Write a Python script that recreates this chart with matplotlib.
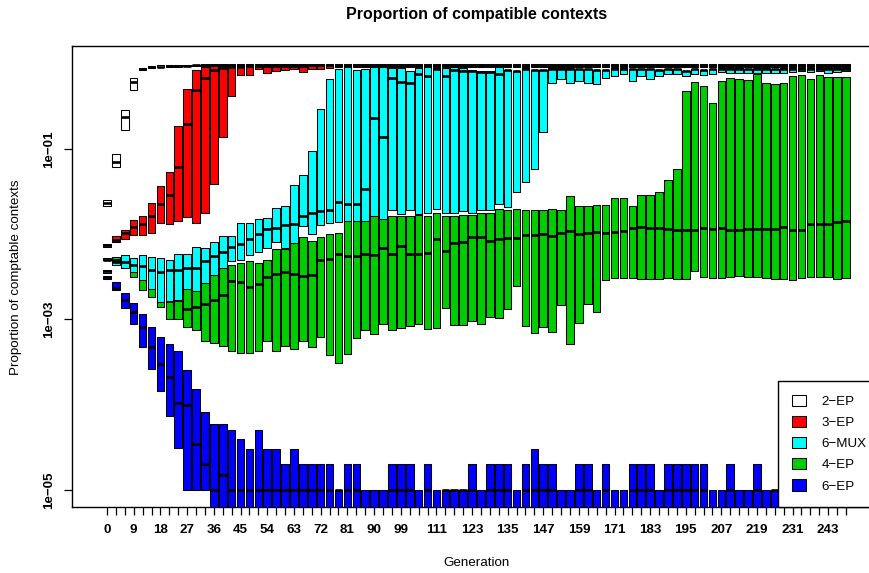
import numpy as np
import matplotlib
matplotlib.use("Agg")
import matplotlib.pyplot as plt
from matplotlib.patches import Patch
from matplotlib.ticker import NullLocator

plt.rcParams['font.family'] = ['Liberation Sans', 'DejaVu Sans']

# ---------------- data ----------------
generations = [0, 3, 6, 9, 12, 15, 18, 21, 24, 27, 30, 33, 36, 39, 42, 45, 48, 51, 54, 57,
               60, 63, 66, 69, 72, 75, 78, 81, 84, 87, 90, 93, 96, 99, 102, 105, 108, 111, 114, 117,
               120, 123, 126, 129, 132, 135, 138, 141, 144, 147, 150, 153, 156, 159, 162, 165, 168, 171, 174, 177,
               180, 183, 186, 189, 192, 195, 198, 201, 204, 207, 210, 213, 216, 219, 222, 225, 228, 231, 234, 237,
               240, 243, 246, 249]
labeled_generations = [0, 9, 18, 27, 36, 45, 54, 63, 72, 81, 90, 99, 111, 123, 135, 147, 159, 171,
                       183, 195, 207, 219, 231, 243]

# 2-EP
ep2_q1 = [0.0215, 0.0611, 0.167, 0.486, 0.83, 0.88, 0.90, 0.91, 0.92, 0.925, 0.93, 0.93, 0.93, 0.93, 0.93, 0.93, 0.93, 0.93, 0.93, 0.93,
          0.93, 0.93, 0.93, 0.93, 0.93, 0.93, 0.93, 0.93, 0.93, 0.93, 0.93, 0.93, 0.93, 0.93, 0.93, 0.93, 0.93, 0.93, 0.93, 0.93,
          0.93, 0.93, 0.93, 0.93, 0.93, 0.93, 0.93, 0.93, 0.93, 0.93, 0.93, 0.93, 0.93, 0.93, 0.93, 0.93, 0.93, 0.93, 0.93, 0.93,
          0.93, 0.93, 0.93, 0.93, 0.93, 0.93, 0.93, 0.93, 0.93, 0.93, 0.93, 0.93, 0.93, 0.93, 0.93, 0.93, 0.93, 0.93, 0.93, 0.93,
          0.93, 0.93, 0.93, 0.93]
ep2_med = [0.0233, 0.0705, 0.238, 0.603, 0.87, 0.91, 0.92, 0.93, 0.94, 0.945, 0.95, 0.95, 0.95, 0.95, 0.95, 0.95, 0.95, 0.95, 0.95, 0.95,
           0.955, 0.955, 0.955, 0.955, 0.955, 0.955, 0.955, 0.955, 0.955, 0.955, 0.955, 0.955, 0.955, 0.955, 0.955, 0.955, 0.955, 0.955, 0.955, 0.955,
           0.955, 0.955, 0.955, 0.955, 0.955, 0.955, 0.955, 0.955, 0.955, 0.955, 0.955, 0.955, 0.955, 0.955, 0.955, 0.955, 0.955, 0.955, 0.955, 0.955,
           0.955, 0.955, 0.955, 0.955, 0.955, 0.955, 0.955, 0.955, 0.955, 0.955, 0.955, 0.955, 0.955, 0.955, 0.955, 0.955, 0.955, 0.955, 0.955, 0.955,
           0.955, 0.955, 0.955, 0.955]
ep2_q3 = [0.0253, 0.0867, 0.284, 0.682, 0.89, 0.94, 0.95, 0.955, 0.96, 0.965, 0.97, 0.975, 0.975, 0.975, 0.975, 0.975, 0.975, 0.975, 0.975, 0.975,
          0.975, 0.975, 0.975, 0.975, 0.975, 0.975, 0.975, 0.975, 0.975, 0.975, 0.975, 0.975, 0.975, 0.975, 0.975, 0.975, 0.975, 0.975, 0.975, 0.975,
          0.975, 0.975, 0.975, 0.975, 0.975, 0.975, 0.975, 0.975, 0.975, 0.975, 0.975, 0.975, 0.975, 0.975, 0.975, 0.975, 0.975, 0.975, 0.975, 0.975,
          0.975, 0.975, 0.975, 0.975, 0.975, 0.975, 0.975, 0.975, 0.975, 0.975, 0.975, 0.975, 0.975, 0.975, 0.975, 0.975, 0.975, 0.975, 0.975, 0.975,
          0.975, 0.975, 0.975, 0.975]

# 3-EP
ep3_q1 = [0.0071, 0.0080, 0.00879, 0.00968, 0.00987, 0.0102, 0.0134, 0.0131, 0.0141, 0.0157, 0.0135, 0.0175, 0.0386, 0.139, 0.417, 0.728, 0.728, 0.862, 0.774, 0.81,
          0.839, 0.855, 0.80, 0.86, 0.87, 0.88, 0.90, 0.90, 0.90, 0.90, 0.90, 0.90, 0.90, 0.90, 0.90, 0.90, 0.90, 0.90, 0.90, 0.90,
          0.90, 0.90, 0.90, 0.90, 0.90, 0.90, 0.90, 0.90, 0.90, 0.90, 0.90, 0.90, 0.90, 0.90, 0.90, 0.90, 0.90, 0.90, 0.90, 0.90,
          0.90, 0.90, 0.90, 0.90, 0.90, 0.90, 0.90, 0.90, 0.90, 0.90, 0.90, 0.90, 0.90, 0.90, 0.90, 0.90, 0.90, 0.90, 0.90, 0.90,
          0.90, 0.90, 0.90, 0.90]
ep3_med = [0.0074, 0.0086, 0.0102, 0.01214, 0.01327, 0.0161, 0.0227, 0.029, 0.0605, 0.196, 0.486, 0.671, 0.839, 0.879, 0.903, 0.917, 0.935, 0.943, 0.943, 0.945,
           0.945, 0.945, 0.945, 0.95, 0.95, 0.95, 0.95, 0.95, 0.95, 0.95, 0.95, 0.95, 0.95, 0.95, 0.95, 0.95, 0.95, 0.95, 0.95, 0.95,
           0.95, 0.95, 0.95, 0.95, 0.95, 0.95, 0.95, 0.95, 0.95, 0.95, 0.95, 0.95, 0.95, 0.95, 0.95, 0.95, 0.95, 0.95, 0.95, 0.95,
           0.95, 0.95, 0.95, 0.95, 0.95, 0.95, 0.95, 0.95, 0.95, 0.95, 0.95, 0.95, 0.95, 0.95, 0.95, 0.95, 0.95, 0.95, 0.95, 0.95,
           0.95, 0.95, 0.95, 0.95]
ep3_q3 = [0.0077, 0.0094, 0.0113, 0.01466, 0.01646, 0.0232, 0.0366, 0.0528, 0.184, 0.499, 0.839, 0.903, 0.943, 0.943, 0.943, 0.96, 0.96, 0.96, 0.96, 0.96,
          0.96, 0.96, 0.96, 0.97, 0.97, 0.97, 0.97, 0.97, 0.97, 0.97, 0.97, 0.97, 0.97, 0.97, 0.97, 0.97, 0.97, 0.97, 0.97, 0.97,
          0.97, 0.97, 0.97, 0.97, 0.97, 0.97, 0.97, 0.97, 0.97, 0.97, 0.97, 0.97, 0.97, 0.97, 0.97, 0.97, 0.97, 0.97, 0.97, 0.97,
          0.97, 0.97, 0.97, 0.97, 0.97, 0.97, 0.97, 0.97, 0.97, 0.97, 0.97, 0.97, 0.97, 0.97, 0.97, 0.97, 0.97, 0.97, 0.97, 0.97,
          0.97, 0.97, 0.97, 0.97]

# 6-MUX
mux6_q1 = [0.0035, 0.00428, 0.00402, 0.00357, 0.00288, 0.00224, 0.0016, 0.00162, 0.00168, 0.00228, 0.00216, 0.00268, 0.0033, 0.00402, 0.00481, 0.00503, 0.00565, 0.0062, 0.0069, 0.0081,
           0.0068, 0.0079, 0.0123, 0.0099, 0.0126, 0.0133, 0.0139, 0.0144, 0.0144, 0.0141, 0.0162, 0.0151, 0.0193, 0.0174, 0.0193, 0.0172, 0.0177, 0.0197, 0.0177, 0.0177,
           0.0185, 0.0177, 0.0193, 0.019, 0.0226, 0.0206, 0.0308, 0.0403, 0.0579, 0.159, 0.587, 0.659, 0.596, 0.624, 0.596, 0.576, 0.671, 0.72, 0.748, 0.624,
           0.714, 0.653, 0.714, 0.754, 0.754, 0.714, 0.754, 0.734, 0.754, 0.795, 0.78, 0.78, 0.768, 0.768, 0.78, 0.768, 0.78, 0.80, 0.824, 0.80,
           0.824, 0.78, 0.80, 0.817]
mux6_med = [0.00367, 0.00464, 0.00464, 0.00428, 0.0042, 0.00384, 0.00357, 0.00377, 0.00377, 0.00402, 0.00402, 0.00481, 0.0056, 0.00613, 0.0071, 0.0077, 0.0088, 0.0099, 0.0115, 0.0118,
            0.0129, 0.0132, 0.0161, 0.0177, 0.0188, 0.0193, 0.0235, 0.0227, 0.0226, 0.0338, 0.228, 0.137, 0.671, 0.613, 0.596, 0.748, 0.72, 0.87, 0.714, 0.839,
            0.824, 0.82, 0.80, 0.80, 0.754, 0.83, 0.81, 0.87, 0.83, 0.83, 0.87, 0.87, 0.87, 0.85, 0.85, 0.835, 0.835, 0.87, 0.87, 0.85,
            0.85, 0.85, 0.835, 0.85, 0.85, 0.82, 0.85, 0.835, 0.85, 0.87, 0.87, 0.87, 0.85, 0.87, 0.87, 0.85, 0.87, 0.87, 0.87, 0.87,
            0.87, 0.87, 0.87, 0.87]
mux6_q3 = [0.0038, 0.00477, 0.00565, 0.00531, 0.00565, 0.00545, 0.00517, 0.00494, 0.00576, 0.00587, 0.0070, 0.0069, 0.0080, 0.0094, 0.0094, 0.0133, 0.0133, 0.0151, 0.0155, 0.0202,
           0.0215, 0.0379, 0.0493, 0.0947, 0.291, 0.664, 0.855, 0.903, 0.839, 0.855, 0.903, 0.903, 0.879, 0.879, 0.824, 0.879, 0.903, 0.879, 0.879, 0.903,
           0.879, 0.84, 0.824, 0.824, 0.903, 0.839, 0.824, 0.879, 0.839, 0.839, 0.879, 0.879, 0.879, 0.855, 0.855, 0.839, 0.839, 0.879, 0.879, 0.855,
           0.855, 0.855, 0.839, 0.855, 0.855, 0.824, 0.855, 0.839, 0.855, 0.879, 0.879, 0.879, 0.855, 0.879, 0.879, 0.855, 0.879, 0.879, 0.879, 0.879,
           0.879, 0.879, 0.879, 0.879]

# 4-EP
ep4_q1 = [0.0049, 0.00477, 0.0043, 0.00313, 0.00218, 0.00182, 0.00139, 0.0010, 0.0010, 0.00082, 0.00075, 0.00056, 0.00053, 0.00049, 0.00043, 0.0004, 0.0004, 0.00042, 0.00056, 0.00043,
          0.00049, 0.00045, 0.00055, 0.00047, 0.00062, 0.00038, 0.00031, 0.00039, 0.00061, 0.00076, 0.00068, 0.00089, 0.00076, 0.0008, 0.00083, 0.00089, 0.00078, 0.0008, 0.00137, 0.00085,
          0.00086, 0.00095, 0.00089, 0.00106, 0.00105, 0.00131, 0.00245, 0.00083, 0.0007, 0.00081, 0.00072, 0.00147, 0.00052, 0.0009, 0.0015, 0.00122, 0.00286, 0.00307, 0.00307, 0.00307,
          0.0030, 0.0030, 0.0030, 0.00304, 0.0030, 0.0030, 0.00367, 0.00313, 0.00307, 0.00307, 0.00313, 0.0032, 0.00313, 0.00313, 0.00307, 0.0030, 0.0030, 0.00293, 0.00304, 0.00313,
          0.00313, 0.00313, 0.0030, 0.00304]
ep4_med = [0.0050, 0.00503, 0.0047, 0.0039, 0.0031, 0.0026, 0.0019, 0.00163, 0.00167, 0.00133, 0.0014, 0.00153, 0.00167, 0.00192, 0.0028, 0.00273, 0.00239, 0.00262, 0.00313, 0.00342,
           0.0036, 0.00336, 0.0032, 0.00327, 0.0049, 0.0051, 0.00576, 0.0055, 0.0055, 0.00576, 0.00565, 0.0069, 0.00587, 0.0072, 0.0059, 0.0059, 0.00603, 0.0088, 0.0063, 0.0079,
           0.0080, 0.0093, 0.0092, 0.0082, 0.0088, 0.0090, 0.0090, 0.0097, 0.0097, 0.0100, 0.0096, 0.0103, 0.0108, 0.0099, 0.0103, 0.0107, 0.0103, 0.0105, 0.0109, 0.0118,
           0.0120, 0.0118, 0.0118, 0.0116, 0.0113, 0.0113, 0.0113, 0.0117, 0.0115, 0.0117, 0.0111, 0.0113, 0.0115, 0.0116, 0.0116, 0.0116, 0.0121, 0.0113, 0.0111, 0.0132,
           0.0132, 0.0132, 0.0137, 0.0144]
ep4_q3 = [0.0052, 0.00545, 0.0052, 0.0046, 0.0042, 0.0038, 0.0032, 0.0024, 0.0025, 0.0024, 0.0024, 0.0029, 0.0035, 0.0041, 0.00428, 0.0046, 0.00481, 0.0046, 0.00503, 0.0067,
          0.0066, 0.0079, 0.0092, 0.0084, 0.0092, 0.0100, 0.0103, 0.0141, 0.0144, 0.0141, 0.0162, 0.0151, 0.0162, 0.0162, 0.0162, 0.0169, 0.0162, 0.0177, 0.0162, 0.0162,
          0.0169, 0.0169, 0.0177, 0.0177, 0.0197, 0.0193, 0.0197, 0.0190, 0.0190, 0.0190, 0.0197, 0.0190, 0.0277, 0.0211, 0.0215, 0.0221, 0.0220, 0.0265, 0.0265, 0.0215,
          0.029, 0.029, 0.0308, 0.0434, 0.0583, 0.477, 0.603, 0.545, 0.348, 0.624, 0.671, 0.653, 0.641, 0.754, 0.587, 0.571, 0.587, 0.714, 0.733, 0.664,
          0.733, 0.69, 0.69, 0.69]

# 6-EP
ep6_q1 = [0.0030, 0.0022, 0.00137, 0.00089, 0.00047, 0.00026, 0.000145, 7.3e-5, 3.1e-5, 1e-5, 1e-5, 1e-5, 0, 0, 0, 0, 0, 0, 0, 0,
          0, 0, 0, 0, 0, 0, 0, 0, 0, 0, 0, 0, 0, 0, 0, 0, 0, 0, 0, 0,
          0, 0, 0, 0, 0, 0, 0, 0, 0, 0, 0, 0, 0, 0, 0, 0, 0, 0, 0, 0,
          0, 0, 0, 0, 0, 0, 0, 0, 0, 0, 0, 0, 0, 0, 0, 0, 0, 0, 0, 0,
          0, 0, 0, 0]
ep6_med = [0.0031, 0.00235, 0.00168, 0.00123, 0.00082, 0.00047, 0.0003, 0.00021, 1.04e-4, 1.0e-4, 3.5e-5, 2e-5, 1e-5, 1.5e-5, 1e-5, 1e-5, 1e-5, 1e-5, 1e-5, 1e-5,
           1e-5, 1e-5, 1e-5, 1e-5, 1e-5, 1e-5, 1e-5, 1e-5, 1e-5, 0, 0, 0, 1e-5, 1e-5, 1e-5, 0, 1e-5, 0, 1e-5, 1e-5,
           1e-5, 1e-5, 0, 1e-5, 1e-5, 1e-5, 0, 1e-5, 1e-5, 1e-5, 1e-5, 0, 0, 1e-5, 1e-5, 0, 1e-5, 0, 0, 1e-5,
           1e-5, 1e-5, 0, 1e-5, 1e-5, 1e-5, 1e-5, 1e-5, 0, 0, 1e-5, 0, 0, 1e-5, 0, 1e-5, 0, 1e-5, 0, 0,
           1e-5, 0, 0, 0]
ep6_q3 = [0.0032, 0.00273, 0.00205, 0.00154, 0.00116, 0.00081, 0.00062, 0.00051, 0.00043, 0.000255, 0.000154, 8.3e-5, 6e-5, 6e-5, 5e-5, 4e-5, 3e-5, 5e-5, 3e-5, 3e-5,
          2e-5, 3e-5, 2e-5, 2e-5, 2e-5, 2e-5, 1e-5, 2e-5, 2e-5, 1e-5, 1e-5, 1e-5, 2e-5, 2e-5, 2e-5, 1e-5, 2e-5, 1e-5, 1e-5, 1e-5,
          1e-5, 2e-5, 1e-5, 2e-5, 2e-5, 2e-5, 1e-5, 2e-5, 3e-5, 2e-5, 2e-5, 1e-5, 1e-5, 2e-5, 2e-5, 1e-5, 2e-5, 1e-5, 1e-5, 2e-5,
          2e-5, 2e-5, 1e-5, 2e-5, 2e-5, 2e-5, 2e-5, 2e-5, 1e-5, 1e-5, 2e-5, 1e-5, 1e-5, 2e-5, 1e-5, 1e-5, 1e-5, 2e-5, 1e-5, 1e-5,
          2e-5, 1e-5, 1e-5, 1e-5]

series_labels = ['2\u2212EP', '3\u2212EP', '6\u2212MUX', '4\u2212EP', '6\u2212EP']
series_colors = ['#FFFFFF', '#FF0000', '#00FFFF', '#00CD00', '#0000FF']

# ---------------- figure ----------------
W, H = 870, 573
fig = plt.figure(figsize=(W / 100, H / 100), dpi=100)
ax_left, ax_right, ax_top, ax_bottom = 72, 881, 46.4, 507
ax = fig.add_axes([ax_left / W, 1 - ax_bottom / H, (ax_right - ax_left) / W, (ax_bottom - ax_top) / H])

ymin, ymax = 10 ** -5.2, 10 ** 0.2
ax.set_yscale('log')
ax.set_ylim(ymin, ymax)
ax.set_xlim(-3.93, 86.93)

pos = np.arange(len(generations))
box_w = 0.85

# draw order: 4-EP, 6-MUX (covers 4-EP), 6-EP, 3-EP, 2-EP
draw = [
    (ep4_q1, ep4_med, ep4_q3, series_colors[3]),
    (mux6_q1, mux6_med, mux6_q3, series_colors[2]),
    (ep6_q1, ep6_med, ep6_q3, series_colors[4]),
    (ep3_q1, ep3_med, ep3_q3, series_colors[1]),
    (ep2_q1, ep2_med, ep2_q3, series_colors[0]),
]
for k, (q1, med, q3, col) in enumerate(draw):
    q1 = np.asarray(q1, float)
    med = np.asarray(med, float)
    q3 = np.asarray(q3, float)
    lo = np.where(q1 > 0, q1, ymin / 10)
    ax.bar(pos, q3 - lo, bottom=lo, width=box_w, color=col, edgecolor='black',
           linewidth=0.75, zorder=2 + k)
    m = med > 0
    ax.hlines(med[m], pos[m] - box_w / 2, pos[m] + box_w / 2, colors='black',
              linewidth=1.9, zorder=2.5 + k)

# axes styling
for s in ['left', 'top', 'bottom', 'right']:
    ax.spines[s].set_linewidth(1.0)
    ax.spines[s].set_color('black')

ax.set_xticks(pos)
ax.set_xticklabels([str(g) if g in labeled_generations else '' for g in generations],
                   fontsize=9.6, fontweight='bold')
ax.set_yticks([1e-5, 1e-3, 1e-1])
ax.set_yticklabels(['1e\u221205', '1e\u221203', '1e\u221201'], rotation=90, va='center',
                   fontsize=9.6, fontweight='bold')
ax.yaxis.set_minor_locator(NullLocator())
ax.tick_params(axis='both', direction='out', length=5.5, width=0.9, pad=7, colors='black')

# legend
handles = [Patch(facecolor=c, edgecolor='black', linewidth=0.75) for c in series_colors]
leg = ax.legend(handles, series_labels, loc='lower right', bbox_to_anchor=(1, 0),
                borderaxespad=0, fancybox=False, framealpha=1, edgecolor='black',
                fontsize=9.6, handlelength=1.0, handleheight=0.9, handletextpad=1.2,
                labelspacing=0.6, borderpad=1.08)
leg.get_frame().set_linewidth(1.0)
leg.set_zorder(20)

# texts
fig.text(477 / W, 1 - 14 / H, 'Proportion of compatible contexts', ha='center', va='center',
         fontsize=11.5, fontweight='bold')
fig.text(477 / W, 1 - 563 / H, 'Generation', ha='center', va='center', fontsize=9.6)
fig.text(16 / W, 1 - 277 / H, 'Proportion of comptable contexts', ha='center', va='center',
         rotation=90, fontsize=9.6)

fig.savefig('out.png', dpi=100)
